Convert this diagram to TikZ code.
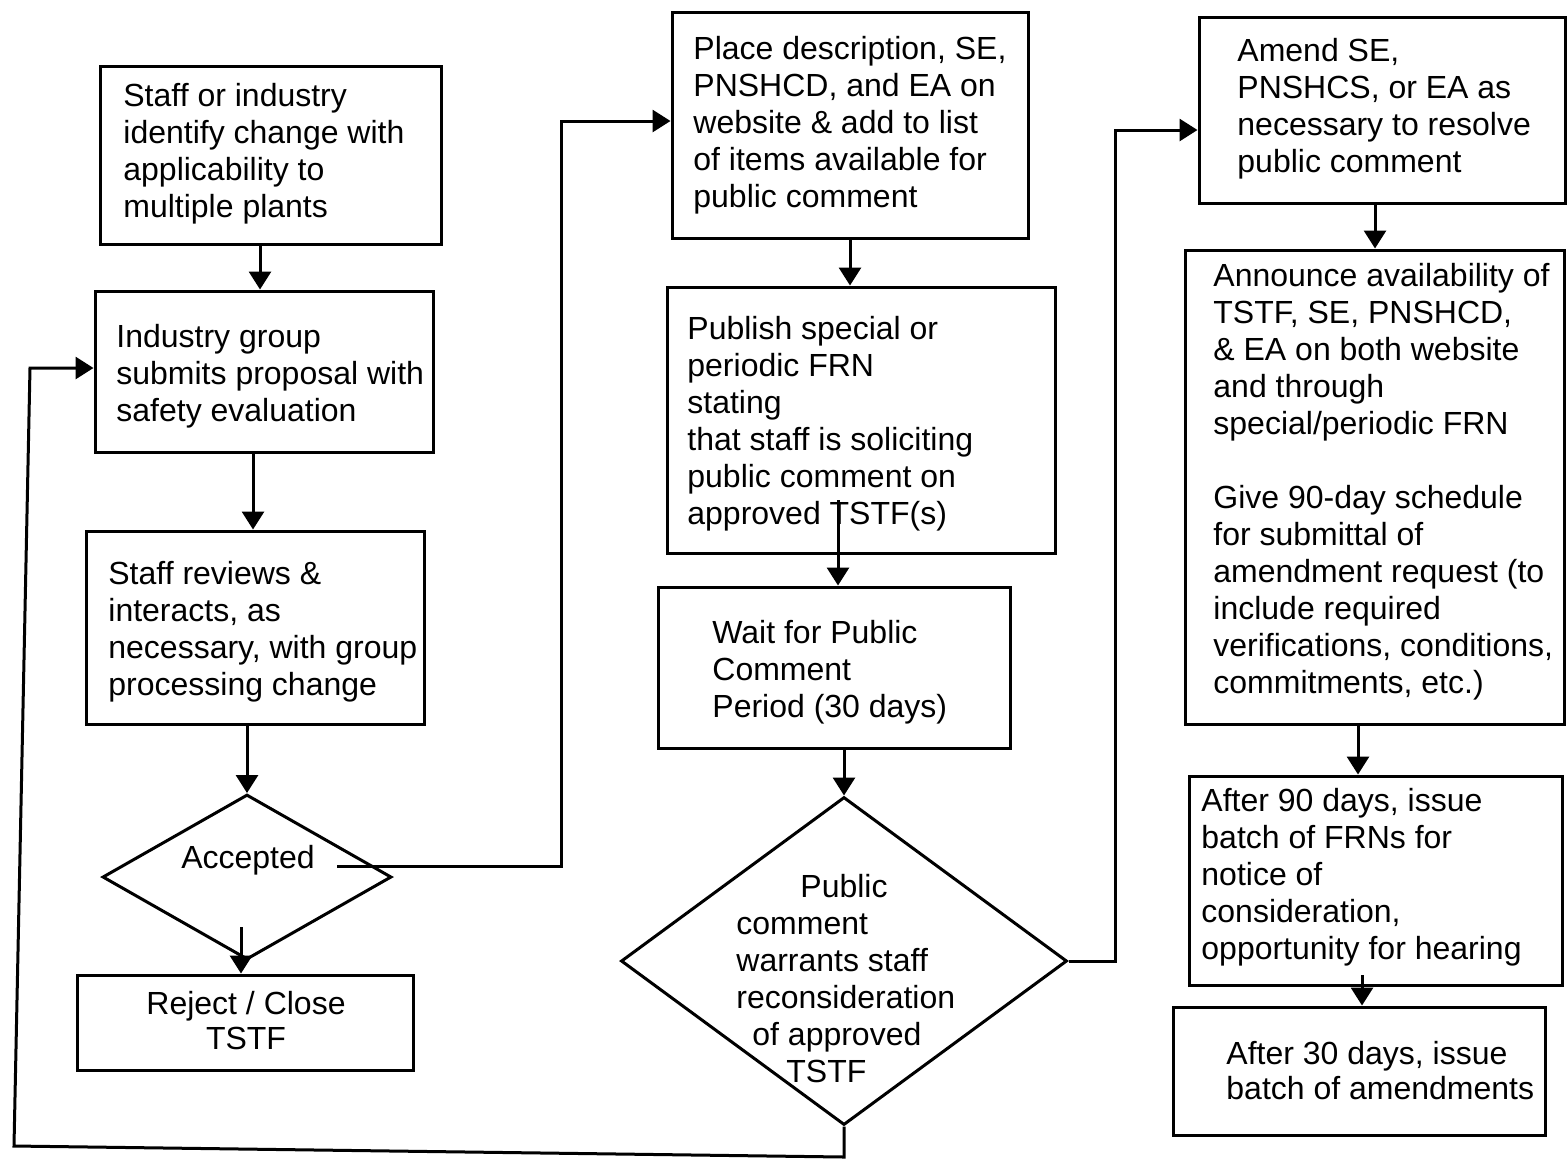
\documentclass[tikz,border=0pt]{standalone}
\usepackage{fontspec}
\setmainfont{Liberation Sans}
\usetikzlibrary{arrows.meta,shapes.geometric}
\begin{document}
\begin{tikzpicture}[x=0.5pt,y=-0.5pt,
  box/.style={draw,line width=1.5pt,rectangle,inner sep=0pt},
  dia/.style={draw,line width=1.5pt,diamond,inner sep=0pt},
  txt/.style={inner sep=0pt,align=left,anchor=north west,font=\fontsize{16}{18.5}\selectfont},
  ctxt/.style={inner sep=0pt,align=center,anchor=center,font=\fontsize{16}{17.5}\selectfont},
  arr/.style={line width=1.5pt,-{Triangle[length=9pt,width=11pt]}},
  ln/.style={line width=1.5pt}]
\useasboundingbox (0,0) rectangle (1567,1158);
% boxes
\node[box,minimum width=170.5pt,minimum height=89pt] (b1) at (270.5,155) {};
\node[box,minimum width=169pt,minimum height=80.5pt] (b2) at (264,371.5) {};
\node[box,minimum width=169pt,minimum height=96.5pt] (b3) at (255,627.5) {};
\node[dia,minimum width=144.5pt,minimum height=82.5pt] (d1) at (247,877) {};
\node[box,minimum width=168pt,minimum height=47.5pt] (b4) at (245,1022.5) {};
\node[box,minimum width=178pt,minimum height=113pt] (b5) at (850,125) {};
\node[box,minimum width=194pt,minimum height=133pt] (b6) at (861,420) {};
\node[box,minimum width=176pt,minimum height=80.5pt] (b7) at (834,667.5) {};
\node[dia,minimum width=223pt,minimum height=164pt] (d2) at (844,961) {};
\node[box,minimum width=183pt,minimum height=93pt] (b8) at (1382,110) {};
\node[box,minimum width=189.5pt,minimum height=237pt] (b9) at (1374.5,487) {};
\node[box,minimum width=186.5pt,minimum height=104.5pt] (b10) at (1375.5,880.5) {};
\node[box,minimum width=186pt,minimum height=64pt] (b11) at (1359,1071) {};
% texts
\node[txt] (t1) at (123,83) {Staff or industry\\identify change with\\applicability to\\multiple plants};
\node[txt] (t2) at (116,324) {Industry group\\submits proposal with\\safety evaluation};
\node[txt] (t3) at (108,561) {Staff reviews \&\\interacts, as\\necessary, with group\\processing change};
\node[ctxt] (tacc) at (248,860) {Accepted};
\node[ctxt] (t4) at (246,1021) {Reject / Close\\TSTF};
\node[txt] (t5) at (693,36) {Place description, SE,\\PNSHCD, and EA on\\website \& add to list\\of items available for\\public comment};
\node[txt] (t6) at (687,316) {Publish special or\\periodic FRN\\stating\\that staff is soliciting\\public comment on\\approved TSTF(s)};
\node[txt] (t7) at (712,620) {Wait for Public\\Comment\\Period (30 days)};
\node[txt] (td2) at (736,874) {\hspace*{32pt}Public\\comment\\warrants staff\\reconsideration\\\hspace*{8pt}of approved\\\hspace*{25pt}TSTF};
\node[txt] (t8) at (1237,38) {Amend SE,\\PNSHCS, or EA as\\necessary to resolve\\public comment};
\node[txt] (t9) at (1213,263) {Announce availability of\\TSTF, SE, PNSHCD,\\\& EA on both website\\and through\\special/periodic FRN\\[18.5pt]Give 90-day schedule\\for submittal of\\amendment request (to\\include required\\verifications, conditions,\\commitments, etc.)};
\node[txt] (t10) at (1201,788) {After 90 days, issue\\batch of FRNs for\\notice of\\consideration,\\opportunity for hearing};
\node[txt,font=\fontsize{16}{17.5}\selectfont] (t11) at (1226,1041) {After 30 days, issue\\batch of amendments};
% helper coordinates
\coordinate (x260) at (260,0);
\coordinate (x253) at (253,0);
\coordinate (x1375) at (1375,0);
\coordinate (x1358) at (1358,0);
\coordinate (accout) at (337,866);
\coordinate (j1top) at (561,121);
\coordinate (rejstart) at (241,927);
\coordinate (pubin) at (838,500);
\coordinate (j2top) at (1115,130);
\coordinate (lb1) at (840,1157);
\coordinate (lb2) at (14,1146);
\coordinate (lb3) at (30,368);
\coordinate (frnout) at (1362,975);
% connectors
\draw[arr] (x260 |- b1.south) -- (x260 |- b2.north);
\draw[arr] (x253 |- b2.south) -- (x253 |- b3.north);
\draw[arr] (d1.north |- b3.south) -- (d1.north);
\draw[arr] (rejstart) -- (rejstart |- b4.north);
\draw[arr] (accout) -- (accout -| j1top) -- (j1top) -- (j1top -| b5.west);
\draw[arr] (b5.south) -- (b5.south |- b6.north);
\draw[arr] (pubin) -- (pubin |- b7.north);
\draw[arr] (d2.north |- b7.south) -- (d2.north);
\draw[arr] (d2.east) -- (d2.east -| j2top) -- (j2top) -- (j2top -| b8.west);
\draw[arr] (d2.south) -- (d2.south |- lb1) -- (lb2) -- (lb3) -- (lb3 -| b2.west);
\draw[arr] (x1375 |- b8.south) -- (x1375 |- b9.north);
\draw[arr] (x1358 |- b9.south) -- (x1358 |- b10.north);
\draw[arr] (frnout) -- (frnout |- b11.north);
\end{tikzpicture}
\end{document}
